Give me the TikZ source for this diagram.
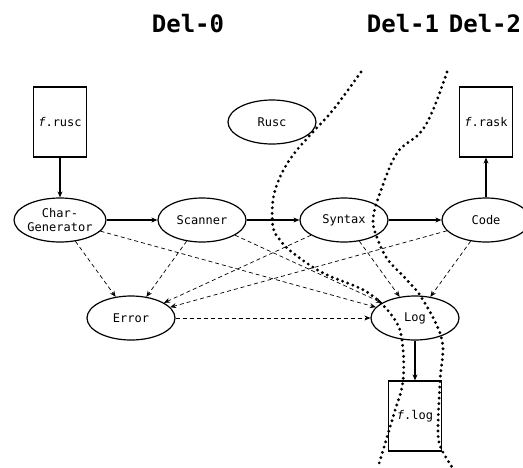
\documentclass[tikz,border=0pt]{standalone}
\usepackage{fontspec}
\setmonofont{DejaVu Sans Mono}
\usetikzlibrary{arrows.meta,shapes.geometric}

\tikzset{
  modul/.style={ellipse, draw, line width=1.2pt, minimum width=88pt, minimum height=44pt,
                inner sep=0pt, align=center, font=\ttfamily\fontsize{12}{14}\selectfont},
  fil/.style={rectangle, draw, line width=1.2pt, minimum width=53pt, minimum height=70pt,
              inner sep=0pt, font=\ttfamily\fontsize{12}{14}\selectfont},
  del/.style={font=\ttfamily\bfseries\fontsize{24}{26}\selectfont},
  flyt/.style={line width=1.4pt, -{Stealth[length=6pt,width=5pt]}},
  feil/.style={line width=0.7pt, dash pattern=on 4pt off 3pt, -{Stealth[length=6pt,width=5pt]}},
  skille/.style={line width=3.2pt, line cap=round, dash pattern=on 0pt off 5.5pt}
}

\begin{document}
\begin{tikzpicture}[x=1pt, y=-1pt]
  \useasboundingbox (0,0) rectangle (523,467);

  % Overskrifter
  \node[del] (del0) at (188,24) {Del-0};
  \node[del] (del1) at (403,24) {Del-1};
  \node[del] (del2) at (485,24) {Del-2};

  % Filer
  \node[fil] (rusc) at (60,122)  {\textit{f}.rusc};
  \node[fil] (rask) at (486,122) {\textit{f}.rask};
  \node[fil] (flog) at (415,416) {\textit{f}.log};

  % Moduler
  \node[modul] (hoved)   at (272,122) {Rusc};
  \node[modul] (chargen) at (60,220)  {Char-\\Generator};
  \node[modul] (scanner) at (202,220) {Scanner};
  \node[modul] (syntax)  at (344,220) {Syntax};
  \node[modul] (code)    at (486,220) {Code};
  \node[modul] (error)   at (131,318) {Error};
  \node[modul] (log)     at (415,318) {Log};

  % Hovedflyt
  \draw[flyt] (rusc)    -- (chargen);
  \draw[flyt] (chargen) -- (scanner);
  \draw[flyt] (scanner) -- (syntax);
  \draw[flyt] (syntax)  -- (code);
  \draw[flyt] (code)    -- (rask);
  \draw[flyt] (log)     -- (flog);

  % Feil og logg
  \foreach \m in {chargen, scanner, syntax, code} {
    \draw[feil] (\m) -- (error);
    \draw[feil] (\m) -- (log);
  }
  \draw[feil] (error) -- (log);

  % Skillelinjer mellom delene
  \draw[skille] plot[smooth, tension=0.6] coordinates {
    (361,72) (333,110) (312,133) (293,155) (280,177) (273,200) (273,227)
    (280,240) (293,253) (323,273) (367,292) (393,317) (402,340)
    (403,381) (393,417) (378,467)};
  \draw[skille] plot[smooth, tension=0.6] coordinates {
    (447,72) (433,110) (420,133) (397,153) (380,193) (373,220) (378,240)
    (388,260) (407,280) (423,300) (442,340) (440,381) (438,433) (442,450)
    (452,467)};
\end{tikzpicture}
\end{document}
